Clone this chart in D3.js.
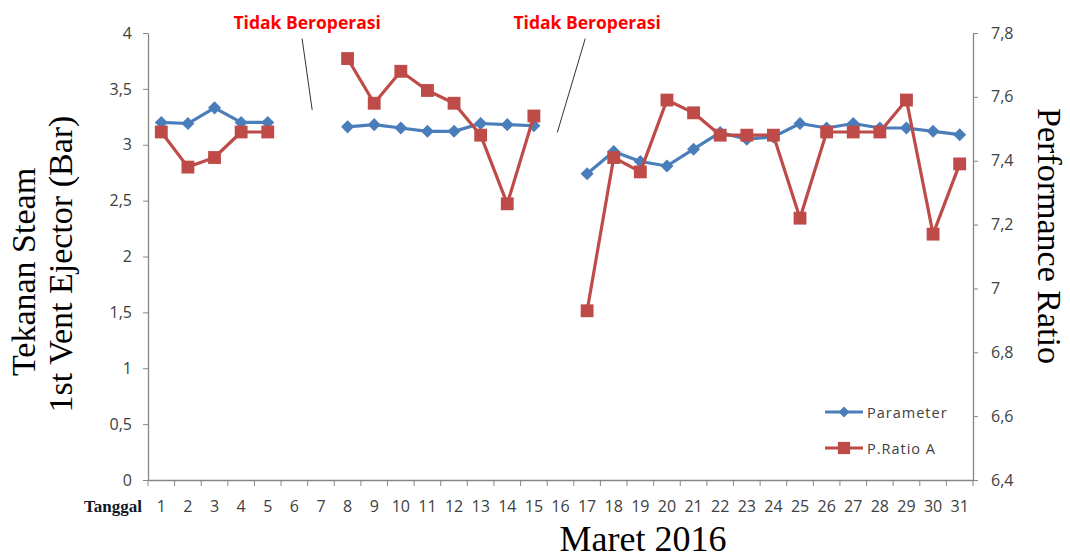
<!DOCTYPE html>
<html>
<head>
<meta charset="utf-8">
<script src="https://cdn.jsdelivr.net/npm/d3@7"></script>
<style>
  body { margin: 0; background: #fff; }
  svg { display: block; }
</style>
</head>
<body>
<svg id="chart" width="1070" height="560"></svg>
<script>
// days of March 2016, gaps = plant not operating
var days = d3.range(1, 32);
var parameter = [3.2, 3.19, 3.33, 3.2, 3.2, null, null, 3.16, 3.18, 3.15, 3.12, 3.12, 3.19, 3.18, 3.17,
                 null, 2.74, 2.94, 2.85, 2.81, 2.96, 3.11, 3.05, 3.07, 3.19, 3.15, 3.19, 3.15, 3.15, 3.12, 3.09];
var pRatioA = [7.49, 7.38, 7.41, 7.49, 7.49, null, null, 7.72, 7.58, 7.68, 7.62, 7.58, 7.48, 7.265, 7.54,
               null, 6.93, 7.41, 7.365, 7.59, 7.55, 7.48, 7.48, 7.48, 7.22, 7.49, 7.49, 7.49, 7.59, 7.17, 7.39];
var leftTicks = [0, 0.5, 1, 1.5, 2, 2.5, 3, 3.5, 4];
var rightTicks = [6.4, 6.6, 6.8, 7, 7.2, 7.4, 7.6, 7.8];
var seriesNames = ["Parameter", "P.Ratio A"];
// annotation: text position and pointer line, in (day position, left axis value)
var notes = [
  {text: "Tidak Beroperasi", tx: 5.98, ty: 4.04, from: [5.79, 3.95], to: [6.17, 3.31]},
  {text: "Tidak Beroperasi", tx: 16.5, ty: 4.04, from: [16.43, 3.95], to: [15.38, 3.11]}
];

var blue = "#4a7ebb", red = "#be4b48", axisGray = "#868686", txtGray = "#404040";
var sans = "'Open Sans', sans-serif", serif = "'Liberation Serif', 'Times New Roman', serif";

var svg = d3.select("#chart");
var pLeft = 148, pRight = 973, pTop = 33, pBottom = 480;

var x = d3.scaleBand().domain(days).range([pLeft, pRight]).padding(0);
var xPos = d3.scaleLinear().domain([0, 31]).range([pLeft, pRight]);
var yL = d3.scaleLinear().domain([0, 4]).range([pBottom, pTop]);
var yR = d3.scaleLinear().domain([6.4, 7.8]).range([pBottom, pTop]);
var fmt = function(d){ return String(+d.toFixed(1)).replace(".", ","); };

// left axis
var gl = svg.append("g").attr("transform", "translate(" + pLeft + ",0)")
  .call(d3.axisLeft(yL).tickValues(leftTicks).tickSize(5).tickSizeOuter(0).tickPadding(11).tickFormat(fmt));
// right axis
var gr = svg.append("g").attr("transform", "translate(" + pRight + ",0)")
  .call(d3.axisRight(yR).tickValues(rightTicks).tickSize(5).tickSizeOuter(0).tickPadding(13).tickFormat(fmt));
// bottom axis, labels centred in each band
var gb = svg.append("g").attr("transform", "translate(0," + pBottom + ")")
  .call(d3.axisBottom(x).tickSize(0).tickPadding(21));
gb.selectAll(".tick text").attr("dy", null).attr("y", 32);

// tick marks on band boundaries
svg.append("g").selectAll("line").data(d3.range(0, 32)).enter().append("line")
  .attr("x1", function(d){ return xPos(d); }).attr("x2", function(d){ return xPos(d); })
  .attr("y1", pBottom).attr("y2", pBottom + 6)
  .attr("stroke", axisGray).attr("stroke-width", 1);

[gl, gr, gb].forEach(function(g){
  g.select(".domain").attr("stroke", axisGray).attr("stroke-width", 1.3);
  g.selectAll(".tick line").attr("stroke", axisGray);
  g.selectAll(".tick text").attr("fill", txtGray).style("font-family", sans).style("font-size", "16px");
});

// axis titles
svg.append("text").attr("transform", "translate(35,272) rotate(-90)")
  .attr("text-anchor", "middle").style("font-family", serif).style("font-size", "34px").text("Tekanan Steam");
svg.append("text").attr("transform", "translate(72,264) rotate(-90)")
  .attr("text-anchor", "middle").style("font-family", serif).style("font-size", "34px").text("1st Vent Ejector (Bar)");
svg.append("text").attr("transform", "translate(1038,236) rotate(90)")
  .attr("text-anchor", "middle").style("font-family", serif).style("font-size", "34px").text("Performance Ratio");
svg.append("text").attr("x", 643).attr("y", 551)
  .attr("text-anchor", "middle").style("font-family", serif).style("font-size", "36px").text("Maret 2016");
svg.append("text").attr("x", 142).attr("y", 512)
  .attr("text-anchor", "end").style("font-family", serif).style("font-size", "17px")
  .style("font-weight", "bold").attr("fill", "#101828").text("Tanggal");

// series
var cx = function(i){ return x(days[i]) + x.bandwidth() / 2; };
function drawSeries(values, yScale, color, symbolType, size, rot) {
  var line = d3.line()
    .defined(function(d){ return d != null; })
    .x(function(d, i){ return cx(i); })
    .y(function(d){ return yScale(d); });
  svg.append("path").datum(values)
    .attr("d", line).attr("fill", "none").attr("stroke", color)
    .attr("stroke-width", 3.2).attr("stroke-linejoin", "round");
  var sym = d3.symbol().type(symbolType).size(size);
  svg.append("g").selectAll("path")
    .data(values.map(function(v, i){ return {v: v, i: i}; }).filter(function(d){ return d.v != null; }))
    .enter().append("path")
    .attr("d", sym)
    .attr("transform", function(d){ return "translate(" + cx(d.i) + "," + yScale(d.v) + ") rotate(" + rot + ")"; })
    .attr("fill", color);
}
drawSeries(parameter, yL, blue, d3.symbolSquare, 85, 45);
drawSeries(pRatioA, yR, red, d3.symbolSquare, 165, 0);

// annotations
notes.forEach(function(n){
  svg.append("text").attr("x", xPos(n.tx)).attr("y", yL(n.ty))
    .attr("text-anchor", "middle").attr("fill", "#ff0000")
    .style("font-family", sans).style("font-size", "17.5px").style("font-weight", "bold").text(n.text);
  svg.append("line")
    .attr("x1", xPos(n.from[0])).attr("y1", yL(n.from[1]))
    .attr("x2", xPos(n.to[0])).attr("y2", yL(n.to[1]))
    .attr("stroke", "#333").attr("stroke-width", 1);
});

// legend
var legend = svg.append("g").attr("transform", "translate(825,412)");
var legendItems = [
  {name: seriesNames[0], color: blue, type: d3.symbolSquare, size: 60, rot: 45},
  {name: seriesNames[1], color: red, type: d3.symbolSquare, size: 150, rot: 0}
];
legendItems.forEach(function(d, i){
  var g = legend.append("g").attr("transform", "translate(0," + i * 36 + ")");
  g.append("line").attr("x1", 0).attr("x2", 38).attr("stroke", d.color).attr("stroke-width", 3.2);
  g.append("path").attr("d", d3.symbol().type(d.type).size(d.size))
    .attr("transform", "translate(19,0) rotate(" + d.rot + ")").attr("fill", d.color);
  g.append("text").attr("x", 42).attr("y", 5.5).attr("fill", txtGray)
    .style("font-family", sans).style("font-size", "14.5px").style("letter-spacing", "1px").text(d.name);
});
</script>
</body>
</html>
